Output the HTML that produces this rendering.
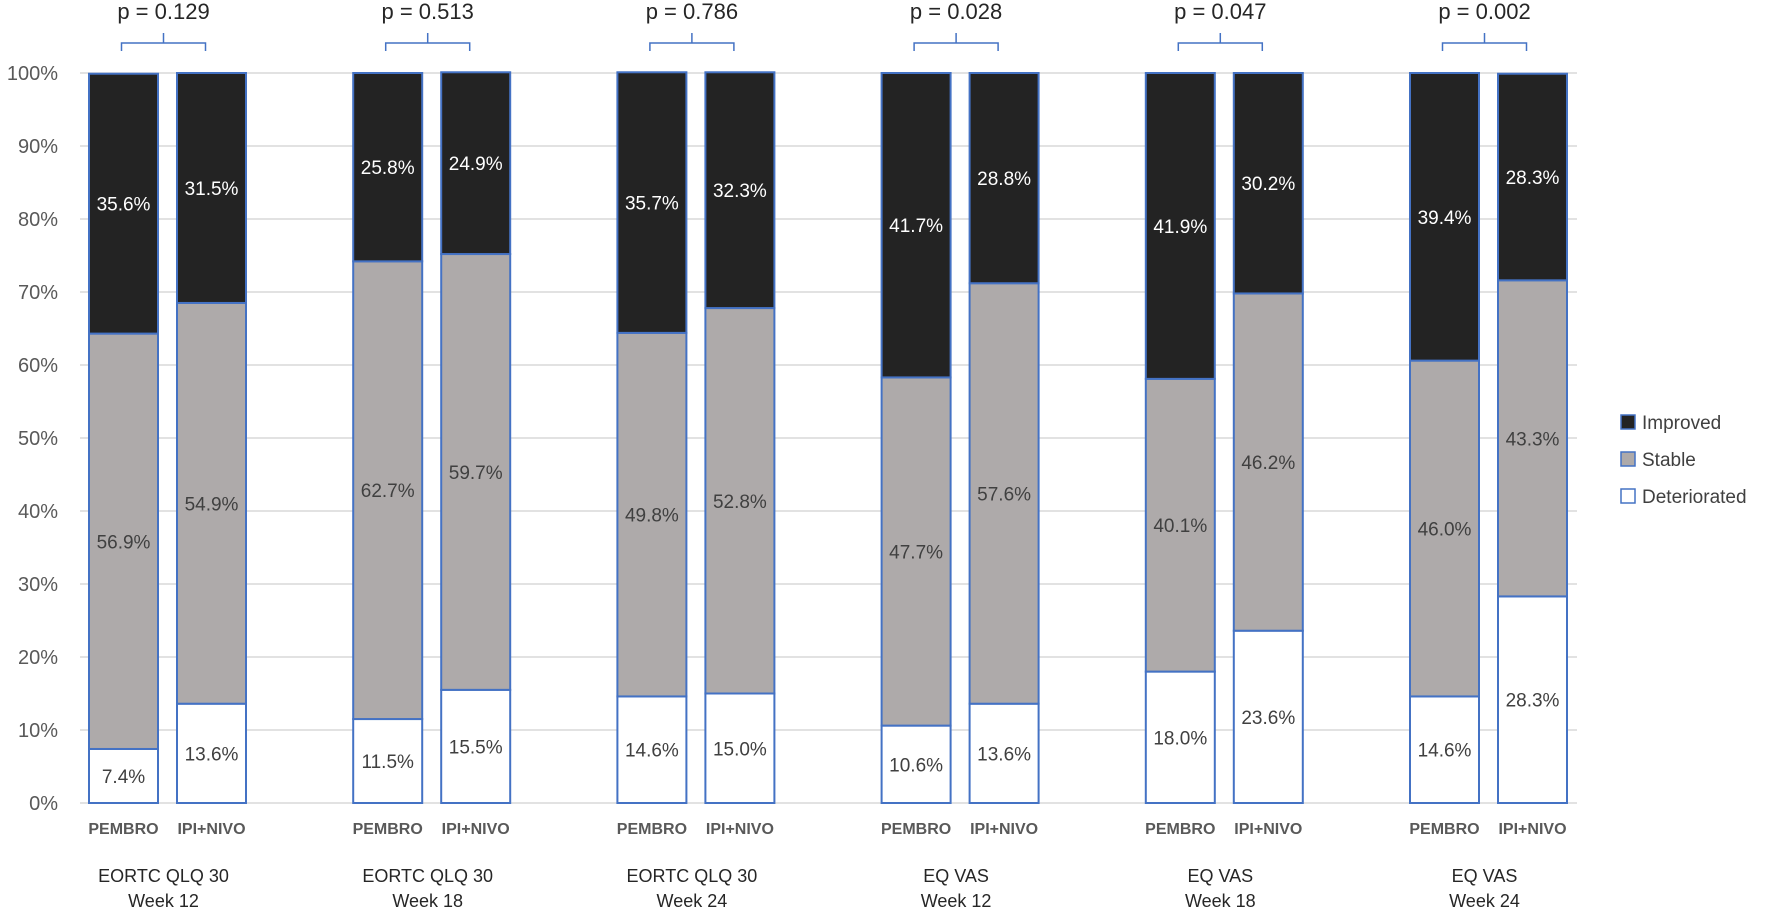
<!DOCTYPE html>
<html><head><meta charset="utf-8"><style>
body{margin:0;background:#fff;width:1772px;height:908px;overflow:hidden}
svg{display:block;font-family:"Liberation Sans","DejaVu Sans",sans-serif}
</style></head><body>
<svg id="chart" width="1772" height="908"></svg>
<script>
const groups=["EORTC QLQ 30|Week 12","EORTC QLQ 30|Week 18","EORTC QLQ 30|Week 24","EQ VAS|Week 12","EQ VAS|Week 18","EQ VAS|Week 24"];
const arms=["PEMBRO","IPI+NIVO"];
const pValues=["p = 0.129","p = 0.513","p = 0.786","p = 0.028","p = 0.047","p = 0.002"];
const deteriorated=[7.4,13.6,11.5,15.5,14.6,15.0,10.6,13.6,18.0,23.6,14.6,28.3];
const stable=[56.9,54.9,62.7,59.7,49.8,52.8,47.7,57.6,40.1,46.2,46.0,43.3];
const improved=[35.6,31.5,25.8,24.9,35.7,32.3,41.7,28.8,41.9,30.2,39.4,28.3];
const yTicks=[0,10,20,30,40,50,60,70,80,90,100];

const NS="http://www.w3.org/2000/svg";
const svg=document.getElementById('chart');
function mk(t,a,txt){const e=document.createElementNS(NS,t);for(const k in a)e.setAttribute(k,a[k]);if(txt!==undefined)e.textContent=txt;svg.appendChild(e);return e;}
const y0=803,y100=73;
const yS=v=>y0-(y0-y100)*v/100;
const groupX=g=>89+g*264.2;
const barX=(g,a)=>groupX(g)+a*88;
const BW=69;
// grid
yTicks.forEach(t=>{
 const l=mk('line',{x1:80,x2:1577,y1:yS(t),y2:yS(t),stroke:'#d9d9d9','stroke-width':1.5});
 
 
 const tx=mk('text',{x:58,y:yS(t)+7,'text-anchor':'end','font-size':20,fill:'#595959'},t+'%');
 
 
});
const series=[{v:deteriorated,fill:'#ffffff',tc:'#404040',n:'deteriorated'},{v:stable,fill:'#aeaaaa',tc:'#404040',n:'stable'},{v:improved,fill:'#232323',tc:'#ffffff',n:'improved'}];
groups.forEach((gName,g)=>{
 arms.forEach((arm,a)=>{
  const i=g*2+a;let cum=0;const x=barX(g,a);
  series.forEach(s=>{
   const v=s.v[i];const yt=yS(cum+v),yb=yS(cum);
   const r=mk('rect',{x:x,y:yt,width:BW,height:yb-yt,fill:s.fill,stroke:'#4472c4','stroke-width':2});
   
   
   const lb=mk('text',{x:x+BW/2,y:(yt+yb)/2+7,'text-anchor':'middle','font-size':19,fill:s.tc},v.toFixed(1)+'%');
   
   
   cum+=v;
  });
  const al=mk('text',{x:x+BW/2,y:834,'text-anchor':'middle','font-size':16,'font-weight':'bold',fill:'#595959'},arm);
  
  
 });
 const cx=(barX(g,0)+barX(g,1)+BW)/2-4;
 const parts=gName.split('|');
 parts.forEach((p,k)=>{
  const t=mk('text',{x:cx,y:882+k*25,'text-anchor':'middle','font-size':18,fill:'#262626'},p);
  
  
 });
 const br=mk('path',{d:`M${cx-42} 51 V43 H${cx+42} V51 M${cx} 43 V33`,fill:'none',stroke:'#4472c4','stroke-width':1.5});
 
 
 const pt=mk('text',{x:cx,y:19,'text-anchor':'middle','font-size':22,fill:'#262626'},pValues[g]);
 
 
});
// legend
[['Improved','#232323',422],['Stable','#aeaaaa',459],['Deteriorated','#ffffff',496]].forEach(([n,c,y])=>{
 const r=mk('rect',{x:1621,y:y-7,width:14,height:14,fill:c,stroke:'#4472c4','stroke-width':1.5});
 
 
 const t=mk('text',{x:1642,y:y+7,'font-size':19,fill:'#404040'},n);
 
 
});
</script>
</body></html>
